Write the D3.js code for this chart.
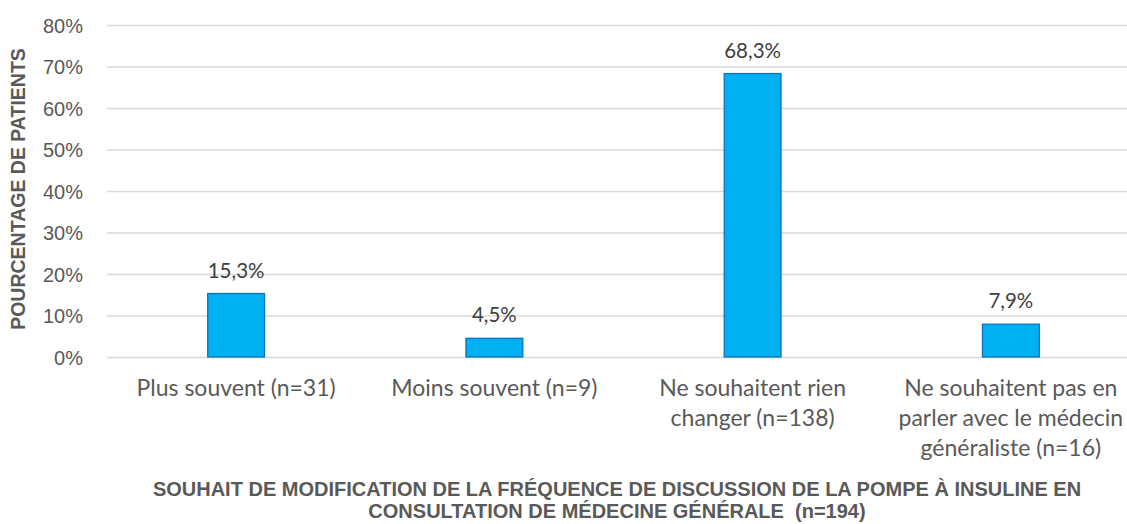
<!DOCTYPE html>
<html><head><meta charset="utf-8">
<script src="https://cdn.jsdelivr.net/npm/d3@7"></script>
<style>
body{margin:0;background:#fff;}
svg{display:block;font-family:"Lato","Open Sans",sans-serif;}
text{white-space:pre;}
</style></head>
<body><svg id="c" width="1127" height="524"></svg>
<script>
const categories = ["Plus souvent (n=31)", "Moins souvent (n=9)", "Ne souhaitent rien\nchanger (n=138)", "Ne souhaitent pas en\nparler avec le médecin\ngénéraliste (n=16)"];
const values = [0.153, 0.045, 0.683, 0.079];
const valueLabels = ["15,3%", "4,5%", "68,3%", "7,9%"];
const yTicks = [0, 0.1, 0.2, 0.3, 0.4, 0.5, 0.6, 0.7, 0.8];
const yTitle = "POURCENTAGE DE PATIENTS";
const xTitle = ["SOUHAIT DE MODIFICATION DE LA FRÉQUENCE DE DISCUSSION DE LA POMPE À INSULINE EN", "CONSULTATION DE MÉDECINE GÉNÉRALE  (n=194)"];

const svg = d3.select("#c");
const pLeft = 107, pRight = 1140, pTop = 25, pBottom = 357;
const grey = "#595959";

const x = d3.scaleBand().domain(categories).range([pLeft, pRight]).paddingInner(0.78).paddingOuter(0.39);
const y = d3.scaleLinear().domain([0, 0.8]).range([pBottom, pTop]);

const yAxis = d3.axisLeft(y).tickValues(yTicks).tickFormat(d3.format(".0%")).tickSize(-(pRight - pLeft)).tickPadding(24);
const gy = svg.append("g").attr("transform", `translate(${pLeft},0)`).call(yAxis);
gy.select(".domain").remove();
gy.selectAll(".tick line").attr("stroke", "#d9d9d9").attr("stroke-width", 1.3);
gy.selectAll(".tick text").attr("fill", grey).attr("font-size", 20).attr("dy", "0.36em");

svg.append("g").selectAll("rect").data(values).join("rect")
  .attr("x", (d, i) => x(categories[i]))
  .attr("y", d => y(d))
  .attr("width", x.bandwidth())
  .attr("height", d => y(0) - y(d))
  .attr("fill", "#00b0f0")
  .attr("stroke", "#0b72c0")
  .attr("stroke-width", 1.3);

svg.append("g").selectAll("text").data(values).join("text")
  .attr("x", (d, i) => x(categories[i]) + x.bandwidth() / 2)
  .attr("y", d => y(d) - 16)
  .attr("text-anchor", "middle")
  .attr("fill", "#404040")
  .attr("font-size", 20.5)
  .text((d, i) => valueLabels[i]);

const lab = svg.append("g");
categories.forEach((c, i) => {
  const t = lab.append("text")
    .attr("x", x(c) + x.bandwidth() / 2)
    .attr("y", 396)
    .attr("text-anchor", "middle")
    .attr("fill", grey)
    .attr("font-size", 23);
  c.split("\n").forEach((line, j) => {
    t.append("tspan").attr("x", x(c) + x.bandwidth() / 2).attr("dy", j === 0 ? 0 : 30).text(line);
  });
});

svg.append("text")
  .attr("transform", `translate(25,${189}) rotate(-90)`)
  .attr("text-anchor", "middle")
  .attr("fill", grey)
  .attr("font-weight", "bold")
  .attr("font-family", "'Liberation Sans',Arial,sans-serif")
  .attr("font-size", 19.5)
  .text(yTitle);

xTitle.forEach((t, i) => {
  svg.append("text")
    .attr("x", 617)
    .attr("y", 496 + i * 22)
    .attr("text-anchor", "middle")
    .attr("fill", grey)
    .attr("font-weight", "bold")
    .attr("font-family", "'Liberation Sans',Arial,sans-serif")
    .attr("font-size", 20)
    .text(t);
});
</script></body></html>
